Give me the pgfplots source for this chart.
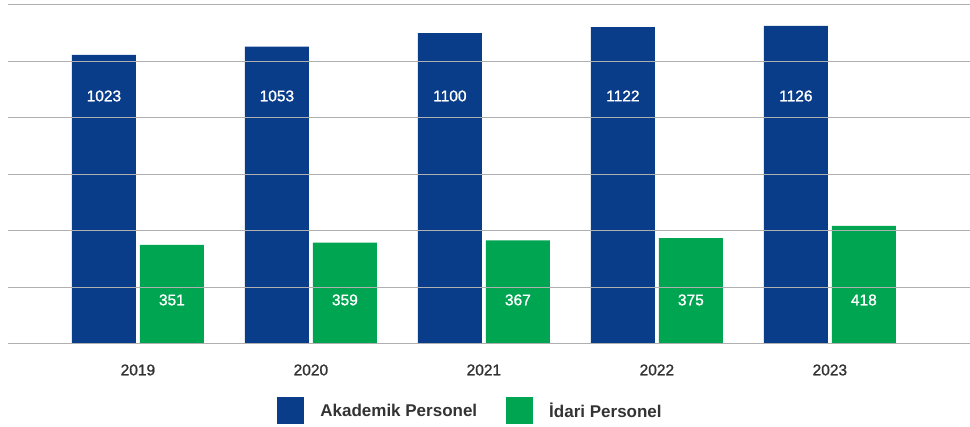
\documentclass[border=0pt]{standalone}
\usepackage{pgfplots}
\pgfplotsset{compat=1.18}
\usepackage{fontspec}
\setmainfont{Liberation Sans}
\newfontfamily\numfont{Liberation Sans}[FakeBold=1.2]
\definecolor{bblue}{HTML}{0A3D89}
\definecolor{bgreen}{HTML}{00A551}
\definecolor{txt}{HTML}{333333}
\definecolor{gridc}{HTML}{B0B0B0}
\begin{document}
\begin{tikzpicture}
\path[use as bounding box] (-8pt,-83pt) rectangle (962pt,344pt);
\begin{axis}[
 scale only axis, width=962pt, height=339pt,
 xmin=-0.751, xmax=4.81, ymin=0, ymax=1200,
 ybar, bar width=64pt,
 axis line style={draw=none},
 ytick={0,200,...,1200}, yticklabels={},
 ymajorgrids, grid style={gridc, line width=1pt},
 major tick length=0pt,
 xtick={0,1,2,3,4}, xticklabels={2019,2020,2021,2022,2023},
 xticklabel style={font=\numfont\fontsize{15.5}{18}\selectfont, text=txt, anchor=center, yshift=-26pt},
 axis on top,
 clip=false,
 legend style={draw=none, fill=none, legend columns=2, at={(0.4808,-0.1976)}, anchor=center,
   font=\fontsize{17}{20}\selectfont\bfseries, text=txt,
   /tikz/every odd column/.append style={column sep=14pt},
   /tikz/every even column/.append style={column sep=27pt}},
 legend cell align=left,
 legend image code/.code={\fill[#1] (0pt,-13.5pt) rectangle (27pt,13.5pt);},
]
\addplot[fill=bblue, draw=none, bar shift=-34pt] coordinates {(0,1023) (1,1053) (2,1100) (3,1122) (4,1126)};
\addplot[fill=bgreen, draw=none, bar shift=34pt] coordinates {(0,351) (1,359) (2,367) (3,375) (4,418)};
\legend{Akademik Personel, İdari Personel}
\foreach \x/\v in {0/1023,1/1053,2/1100,3/1122,4/1126} {
  \edef\tmp{\noexpand\node[text=white, font=\noexpand\numfont\noexpand\fontsize{15.5}{18}\noexpand\selectfont] at ([xshift=-34pt]axis cs:\x,878) {\v};}\tmp
}
\foreach \x/\v in {0/351,1/359,2/367,3/375,4/418} {
  \edef\tmp{\noexpand\node[text=white, font=\noexpand\numfont\noexpand\fontsize{15.5}{18}\noexpand\selectfont] at ([xshift=34pt]axis cs:\x,156) {\v};}\tmp
}
\end{axis}
\end{tikzpicture}
\end{document}
